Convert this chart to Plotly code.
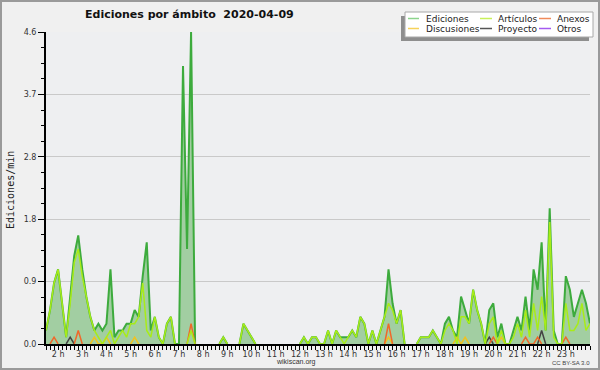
import plotly.graph_objects as go

# ---------------- data (edits per minute, 10-minute buckets) ----------------
START_HOUR = 1.5      # first bucket 01:30
STEP_MIN = 10
N_POINTS = 136

ediciones = [
    0.2, 0.5, 0.9, 1.1, 0.6, 0.1, 0.7, 1.3, 1.6, 1.1, 0.7, 0.4,
    0.2, 0.3, 0.2, 0.3, 1.1, 0.1, 0.2, 0.2, 0.3, 0.3, 0.5, 0.4,
    1.0, 1.5, 0.2, 0.4, 0.1, 0.0, 0.3, 0.4, 0.0, 0.0, 4.1, 1.4,
    4.6, 0.0, 0.0, 0.0, 0.0, 0.0, 0.0, 0.0, 0.1, 0.0, 0.0, 0.0,
    0.0, 0.3, 0.2, 0.1, 0.0, 0.0, 0.0, 0.0, 0.0, 0.0, 0.0, 0.0,
    0.0, 0.0, 0.0, 0.0, 0.1, 0.0, 0.1, 0.1, 0.0, 0.0, 0.2, 0.0,
    0.2, 0.1, 0.1, 0.1, 0.2, 0.1, 0.4, 0.3, 0.0, 0.2, 0.0, 0.2,
    0.4, 1.1, 0.6, 0.3, 0.5, 0.0, 0.0, 0.0, 0.0, 0.1, 0.1, 0.1,
    0.2, 0.1, 0.0, 0.3, 0.4, 0.2, 0.1, 0.7, 0.5, 0.3, 0.8, 0.5,
    0.3, 0.0, 0.5, 0.6, 0.1, 0.3, 0.0, 0.0, 0.2, 0.4, 0.2, 0.7,
    0.2, 1.1, 0.8, 1.5, 0.2, 2.0, 0.2, 0.0, 0.0, 1.0, 0.8, 0.4,
    0.6, 0.8, 0.6, 0.3,
]

articulos = [
    0.2, 0.5, 0.9, 1.1, 0.6, 0.1, 0.6, 1.2, 1.4, 1.0, 0.7, 0.4,
    0.2, 0.1, 0.0, 0.1, 0.2, 0.0, 0.1, 0.2, 0.1, 0.3, 0.3, 0.4,
    0.9, 0.2, 0.1, 0.4, 0.1, 0.0, 0.3, 0.4, 0.0, 0.0, 0.0, 0.0,
    0.2, 0.0, 0.0, 0.0, 0.0, 0.0, 0.0, 0.0, 0.1, 0.0, 0.0, 0.0,
    0.0, 0.3, 0.2, 0.1, 0.0, 0.0, 0.0, 0.0, 0.0, 0.0, 0.0, 0.0,
    0.0, 0.0, 0.0, 0.0, 0.1, 0.0, 0.1, 0.1, 0.0, 0.0, 0.2, 0.0,
    0.2, 0.1, 0.0, 0.1, 0.2, 0.1, 0.4, 0.3, 0.0, 0.2, 0.0, 0.2,
    0.4, 0.6, 0.5, 0.3, 0.5, 0.0, 0.0, 0.0, 0.0, 0.1, 0.1, 0.1,
    0.2, 0.1, 0.0, 0.2, 0.3, 0.2, 0.0, 0.4, 0.4, 0.3, 0.8, 0.5,
    0.3, 0.0, 0.3, 0.4, 0.0, 0.2, 0.0, 0.0, 0.1, 0.3, 0.1, 0.5,
    0.1, 0.6, 0.2, 0.7, 0.2, 1.8, 0.1, 0.0, 0.0, 0.6, 0.2, 0.2,
    0.3, 0.6, 0.2, 0.3,
]

anexos = [
    0.0, 0.0, 0.1, 0.0, 0.0, 0.0, 0.0, 0.0, 0.2, 0.0, 0.0, 0.0,
    0.0, 0.0, 0.0, 0.0, 0.0, 0.0, 0.0, 0.0, 0.0, 0.0, 0.0, 0.0,
    0.0, 0.0, 0.0, 0.0, 0.0, 0.0, 0.0, 0.0, 0.0, 0.0, 0.0, 0.0,
    0.3, 0.0, 0.0, 0.0, 0.0, 0.0, 0.0, 0.0, 0.0, 0.0, 0.0, 0.0,
    0.0, 0.0, 0.0, 0.0, 0.0, 0.0, 0.0, 0.0, 0.0, 0.0, 0.0, 0.0,
    0.0, 0.0, 0.0, 0.0, 0.0, 0.0, 0.0, 0.0, 0.0, 0.0, 0.0, 0.0,
    0.0, 0.0, 0.0, 0.0, 0.0, 0.0, 0.0, 0.0, 0.0, 0.0, 0.0, 0.0,
    0.0, 0.3, 0.0, 0.0, 0.0, 0.0, 0.0, 0.0, 0.0, 0.0, 0.0, 0.0,
    0.0, 0.0, 0.0, 0.0, 0.0, 0.0, 0.0, 0.0, 0.0, 0.0, 0.0, 0.0,
    0.0, 0.0, 0.0, 0.1, 0.0, 0.0, 0.0, 0.0, 0.0, 0.0, 0.0, 0.1,
    0.0, 0.0, 0.1, 0.0, 0.0, 0.0, 0.0, 0.0, 0.0, 0.1, 0.0, 0.0,
    0.0, 0.0, 0.0, 0.0,
]

discusiones = [
    0.0, 0.0, 0.0, 0.0, 0.0, 0.0, 0.0, 0.0, 0.0, 0.0, 0.0, 0.0,
    0.1, 0.0, 0.0, 0.1, 0.0, 0.0, 0.0, 0.0, 0.0, 0.0, 0.1, 0.0,
    0.0, 0.0, 0.0, 0.0, 0.0, 0.0, 0.0, 0.0, 0.0, 0.0, 0.0, 0.0,
    0.0, 0.0, 0.0, 0.0, 0.0, 0.0, 0.0, 0.0, 0.0, 0.0, 0.0, 0.0,
    0.0, 0.0, 0.0, 0.0, 0.0, 0.0, 0.0, 0.0, 0.0, 0.0, 0.0, 0.0,
    0.0, 0.0, 0.0, 0.0, 0.0, 0.0, 0.0, 0.0, 0.0, 0.0, 0.0, 0.0,
    0.0, 0.0, 0.0, 0.0, 0.0, 0.0, 0.0, 0.0, 0.0, 0.0, 0.0, 0.0,
    0.0, 0.1, 0.0, 0.0, 0.0, 0.0, 0.0, 0.0, 0.0, 0.0, 0.0, 0.0,
    0.0, 0.0, 0.0, 0.0, 0.0, 0.0, 0.1, 0.0, 0.1, 0.0, 0.0, 0.0,
    0.0, 0.0, 0.0, 0.0, 0.0, 0.1, 0.0, 0.0, 0.0, 0.0, 0.0, 0.0,
    0.0, 0.0, 0.0, 0.0, 0.0, 0.0, 0.0, 0.0, 0.0, 0.0, 0.0, 0.0,
    0.0, 0.0, 0.0, 0.0,
]

proyecto = [
    0.0, 0.0, 0.0, 0.0, 0.0, 0.0, 0.1, 0.0, 0.0, 0.0, 0.0, 0.0,
    0.0, 0.0, 0.0, 0.0, 0.0, 0.0, 0.0, 0.0, 0.0, 0.0, 0.0, 0.0,
    0.0, 0.0, 0.0, 0.0, 0.0, 0.0, 0.0, 0.0, 0.0, 0.0, 0.0, 0.0,
    0.0, 0.0, 0.0, 0.0, 0.0, 0.0, 0.0, 0.0, 0.0, 0.0, 0.0, 0.0,
    0.0, 0.0, 0.0, 0.0, 0.0, 0.0, 0.0, 0.0, 0.0, 0.0, 0.0, 0.0,
    0.0, 0.0, 0.0, 0.0, 0.0, 0.0, 0.0, 0.0, 0.0, 0.0, 0.0, 0.0,
    0.0, 0.0, 0.0, 0.0, 0.0, 0.0, 0.0, 0.0, 0.0, 0.0, 0.0, 0.0,
    0.0, 0.0, 0.0, 0.0, 0.0, 0.0, 0.0, 0.0, 0.0, 0.0, 0.0, 0.0,
    0.0, 0.0, 0.0, 0.0, 0.0, 0.0, 0.0, 0.0, 0.0, 0.0, 0.0, 0.0,
    0.0, 0.0, 0.1, 0.0, 0.0, 0.0, 0.0, 0.0, 0.0, 0.0, 0.0, 0.0,
    0.0, 0.0, 0.0, 0.2, 0.0, 0.0, 0.0, 0.0, 0.0, 0.0, 0.0, 0.0,
    0.0, 0.0, 0.0, 0.0,
]

otros = [0.0] * N_POINTS

hour_ticks = list(range(2, 24))
hour_labels = [f"{h} h" for h in hour_ticks]
y_ticks = [0.0, 0.92, 1.84, 2.76, 3.68, 4.6]
y_labels = ["0.0", "0.9", "1.8", "2.8", "3.7", "4.6"]

legend_names = ["Ediciones", "Artículos", "Anexos", "Discusiones", "Proyecto", "Otros"]

# ---------------- helpers ----------------
times = [START_HOUR + i * STEP_MIN / 60 for i in range(N_POINTS)]

L, R, T, B = 46, 10, 32, 26
W, H = 600 - L - R, 370 - T - B


def px(x):
    return (x - L) / W


def py(y):
    return (370 - B - y) / H


def trim(vals):
    """hide runs of zeros that would lie on the x axis"""
    out = []
    n = len(vals)
    for i, v in enumerate(vals):
        keep = v != 0 or (i > 0 and vals[i - 1] != 0) or (i < n - 1 and vals[i + 1] != 0)
        out.append(v if keep else None)
    return out


colors = {
    "Ediciones": "#3dab3d",
    "Artículos": "#a8ec18",
    "Anexos": "#f0682a",
    "Discusiones": "#f2c21e",
    "Proyecto": "#444444",
    "Otros": "#9933ee",
}
legend_colors = {
    "Ediciones": "#8cd48c",
    "Artículos": "#c8f05a",
    "Anexos": "#f08a5a",
    "Discusiones": "#f6d25a",
    "Proyecto": "#555555",
    "Otros": "#a45af0",
}

fig = go.Figure()

# filled area under the total
fig.add_trace(go.Scatter(
    x=times, y=ediciones, mode="lines", line=dict(width=0, color="rgba(0,0,0,0)"),
    fill="tozeroy", fillcolor="#a2cea2", hoverinfo="skip", showlegend=False))

series = [
    ("Ediciones", ediciones, 2.0),
    ("Otros", otros, 1.5),
    ("Proyecto", proyecto, 1.5),
    ("Discusiones", discusiones, 1.5),
    ("Anexos", anexos, 1.5),
    ("Artículos", articulos, 1.5),
]
for name, vals, w in series:
    fig.add_trace(go.Scatter(
        x=times, y=trim(vals), mode="lines", name=name,
        line=dict(color=colors[name], width=w), connectgaps=False, showlegend=False))

axis_font = dict(family="DejaVu Sans", size=8, color="#333333")

fig.update_layout(
    width=600, height=370,
    margin=dict(l=L, r=R, t=T, b=B),
    paper_bgcolor="#f0f0f0",
    plot_bgcolor="#eeeff1",
    showlegend=False,
    title=dict(text="<b>Ediciones por ámbito \u00a02020-04-09</b>",
               x=85 / 600, xanchor="left", y=(370 - 14) / 370, yanchor="middle",
               font=dict(family="DejaVu Sans", size=11, color="#111111")),
    xaxis=dict(
        range=[START_HOUR, START_HOUR + (N_POINTS - 1) * STEP_MIN / 60],
        tickmode="array", tickvals=hour_ticks, ticktext=hour_labels,
        ticks="outside", ticklen=4, tickwidth=1, tickcolor="black",
        ticklabelstandoff=-3,
        showline=True, linecolor="black", linewidth=2,
        showgrid=False, zeroline=False, tickfont=axis_font,
        minor=dict(dtick=STEP_MIN / 60, tick0=START_HOUR, ticks="outside",
                   ticklen=4, tickwidth=1, tickcolor="black", showgrid=False),
    ),
    yaxis=dict(
        range=[0, 4.6],
        tickmode="array", tickvals=y_ticks, ticktext=y_labels,
        ticks="outside", ticklen=6, tickwidth=1, tickcolor="black",
        showline=True, linecolor="black", linewidth=2,
        showgrid=True, gridcolor="#c9c9c9", gridwidth=1, zeroline=False,
        tickfont=axis_font,
        minor=dict(dtick=0.23, tick0=0, ticks="outside", ticklen=3,
                   tickwidth=1, tickcolor="black", showgrid=False),
    ),
)

shapes = [
    # outer frame
    dict(type="rect", xref="paper", yref="paper", x0=px(1), x1=px(599), y0=py(369), y1=py(1),
         line=dict(color="#9a9a9a", width=2), fillcolor="rgba(0,0,0,0)", layer="above"),
    # legend shadow + box
    dict(type="rect", xref="paper", yref="paper", x0=px(401), x1=px(589), y0=py(41), y1=py(16),
         line=dict(width=0), fillcolor="#8e8e8e", layer="above"),
    dict(type="rect", xref="paper", yref="paper", x0=px(405), x1=px(593), y0=py(37), y1=py(12),
         line=dict(color="#a8a8a8", width=1), fillcolor="white", layer="above"),
]
annotations = []

col_line_x = [(408, 419), (480, 492), (539, 551)]
col_text_x = [424, 496, 555]
row_y = [19, 29]
for k, name in enumerate(legend_names):
    r, c = divmod(k, 3)
    x0, x1 = col_line_x[c]
    yy = row_y[r]
    shapes.append(dict(type="line", xref="paper", yref="paper",
                       x0=px(x0), x1=px(x1), y0=py(yy - 0.5), y1=py(yy - 0.5),
                       line=dict(color=legend_colors[name], width=1.5), layer="above"))
    annotations.append(dict(text=name, xref="paper", yref="paper",
                            x=px(col_text_x[c]), y=py(yy), xanchor="left", yanchor="middle",
                            showarrow=False, font=dict(family="DejaVu Sans", size=9, color="#222222")))

annotations += [
    dict(text="Ediciones/min", xref="paper", yref="paper", x=px(10), y=py(190),
         textangle=-90, showarrow=False, xanchor="center", yanchor="middle",
         font=dict(family="DejaVu Sans Mono", size=10, color="#222222")),
    dict(text="wikiscan.org", xref="paper", yref="paper", x=px(296), y=py(362),
         showarrow=False, xanchor="center", yanchor="middle", borderpad=0,
         font=dict(family="Liberation Sans", size=7, color="#333333")),
    dict(text="CC BY-SA 3.0", xref="paper", yref="paper", x=px(591), y=py(363),
         showarrow=False, xanchor="right", yanchor="middle", borderpad=0,
         font=dict(family="Liberation Sans", size=6, color="#444444")),
]

fig.update_layout(shapes=shapes, annotations=annotations)

fig.write_html("out.html",
               config={"displayModeBar": False},
               post_script="document.body.style.margin='0';document.body.style.padding='0';")
